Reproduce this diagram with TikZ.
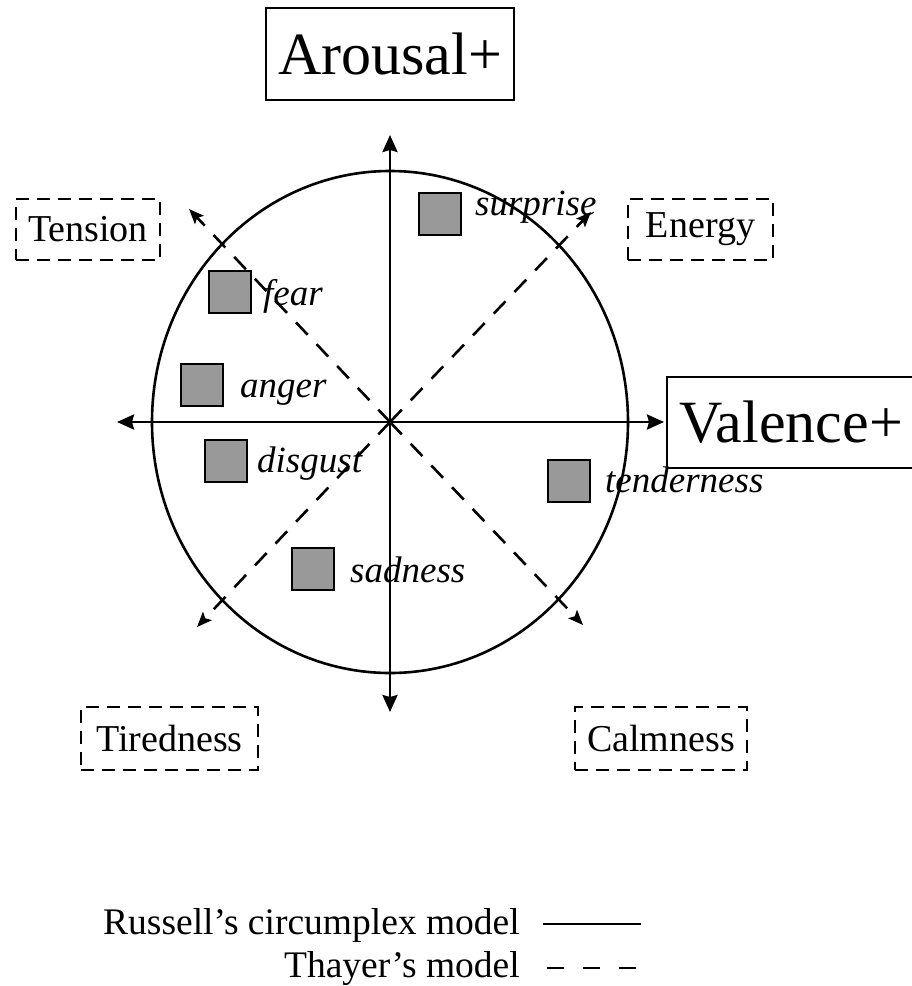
\documentclass[tikz,border=0pt]{standalone}
\usepackage{fontspec}
\setmainfont{Liberation Serif}
\usetikzlibrary{arrows.meta}
\definecolor{sqgray}{RGB}{153,153,153}
\begin{document}
\begin{tikzpicture}[x=1pt,y=-1pt,
  ln/.style={line width=2.6pt},
  ax/.style={ln,{Stealth[length=17pt,width=15pt,inset=2pt]}-{Stealth[length=17pt,width=15pt,inset=2pt]}},
  th/.style={line width=2.6pt, dash pattern=on 17pt off 13pt, -{Stealth[length=15pt,width=12pt,inset=3pt]}},
  emo/.style={draw, line width=2.6pt, fill=sqgray, minimum size=42pt, inner sep=0pt},
  lab/.style={font=\fontsize{37}{42}\selectfont\itshape, anchor=base west, inner sep=0pt},
  big/.style={draw, line width=1.8pt, font=\fontsize{60}{66}\selectfont, inner sep=0pt},
  dbox/.style={draw, line width=2.6pt, dash pattern=on 13pt off 8pt, font=\fontsize{38}{42}\selectfont, inner sep=0pt},
  leg/.style={font=\fontsize{37.5}{42}\selectfont, anchor=base east, inner sep=0pt}
]
\useasboundingbox (0,0) rectangle (911,986);
\fill[white] (0,0) rectangle (911,986);

% centre and axis ends
\coordinate (c) at (390,422);
\coordinate (xl) at (117,422);
\coordinate (xr) at (664,422);
\coordinate (yt) at (390,135);
\coordinate (yb) at (390,712);
\coordinate (tl) at (189,209);
\coordinate (tr) at (591,212);
\coordinate (bl) at (197,627);
\coordinate (br) at (583,625);

% circumplex
\draw[ln] (c) ellipse [x radius=238pt, y radius=251pt];
\draw[ax] (xl) -- (xr);
\draw[ax] (yt) -- (yb);

% Thayer's axes
\draw[th] (c) -- (tl);
\draw[th] (c) -- (tr);
\draw[th] (c) -- (bl);
\draw[th] (c) -- (br);

% axis labels
\node[big, minimum width=248pt, minimum height=92pt] (arousal) at (390,54) {Arousal+};
\node[big, minimum width=248pt, minimum height=91pt] (valence) at (791,422.5) {Valence+};

% Thayer labels
\node[dbox, minimum width=144pt, minimum height=61pt] (tension) at (88,229.5) {Tension};
\node[dbox, minimum width=145pt, minimum height=61pt] (energy) at (700.5,229.5) {Energy};
\node[dbox, minimum width=177pt, minimum height=63pt] (tiredness) at (169.5,738.5) {Tiredness};
\node[dbox, minimum width=172pt, minimum height=63pt] (calmness) at (661,738.5) {Calmness};

% emotions
\node[emo] (sqsurprise) at (440,214) {};
\node[lab] (lsurprise) at (475,215) {surprise};
\node[emo] (sqfear) at (230,292) {};
\node[lab] (lfear) at (263,305) {fear};
\node[emo] (sqanger) at (202,385) {};
\node[lab] (langer) at (240,397) {anger};
\node[emo] (sqdisgust) at (226,461) {};
\node[lab] (ldisgust) at (257,472) {disgust};
\node[emo] (sqtender) at (569,481) {};
\node[lab] (ltender) at (605,492) {tenderness};
\node[emo] (sqsad) at (313,569) {};
\node[lab] (lsad) at (350,582) {sadness};

% legend
\node[leg] (leg1) at (520,934) {Russell’s circumplex model};
\node[leg] (leg2) at (520,977) {Thayer’s model};
\coordinate (l1a) at (543,924);
\coordinate (l1b) at (641,924);
\coordinate (l2a) at (547,968);
\coordinate (l2b) at (637,968);
\draw[ln] (l1a) -- (l1b);
\draw[ln, dash pattern=on 17pt off 19pt] (l2a) -- (l2b);
\end{tikzpicture}
\end{document}
